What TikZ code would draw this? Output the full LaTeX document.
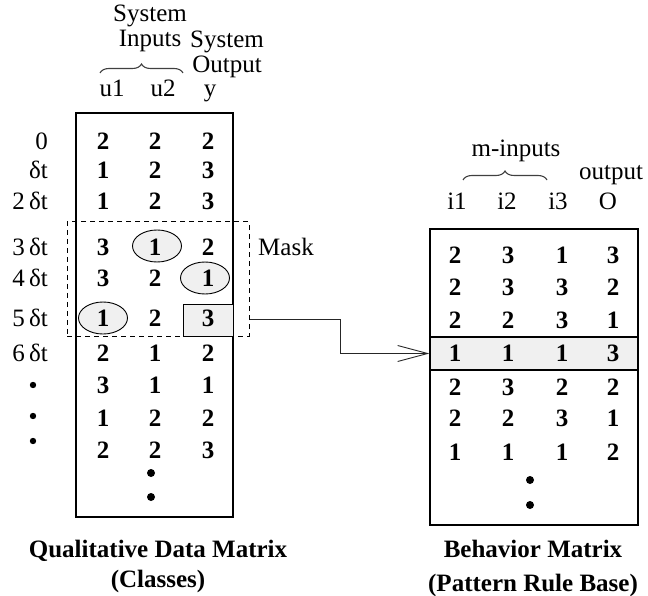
\documentclass[tikz,border=0pt]{standalone}
\usepackage{fontspec}
\setmainfont{Liberation Serif}
\usetikzlibrary{positioning, calc, decorations.pathreplacing, arrows.meta, shapes.geometric}

\tikzset{
    txt/.style={font=\fontsize{25}{27}\selectfont, inner sep=0pt},
    cell/.style={font=\fontsize{25}{27}\selectfont\bfseries, inner sep=0pt},
    ring/.style={draw, ellipse, fill=gray!12, line width=0.9pt, minimum width=49pt, minimum height=32pt},
    frame/.style={draw, line width=1.2pt, inner sep=0pt},
    bracket/.style={decorate, decoration={brace, amplitude=9pt}, line width=1.1pt, gray!50!black},
}

\begin{document}
\begin{tikzpicture}[x=1pt, y=-1pt]
    \useasboundingbox (0,0) rectangle (648,596);

    % Qualitative data matrix
    \node[frame, minimum width=157pt, minimum height=404pt] (qdm) at (154.5,315) {};
    \node[draw, dashed, dash pattern=on 5pt off 4pt, line width=1pt, minimum width=182pt, minimum height=114pt, inner sep=0pt] (mask) at (158,279) {};
    \node[draw, fill=gray!12, line width=1pt, minimum width=50pt, minimum height=32pt, inner sep=0pt] (cur) at (208,320) {};
    \node[ring] (c1) at (157,246) {};
    \node[ring] (c2) at (205,278) {};
    \node[ring] (c3) at (103,318) {};

    % Header of the left matrix
    \node[txt, align=center] (sysin) at (150,28) {System\\[-2pt]Inputs};
    \node[txt, align=center] (sysout) at (227,54) {System\\[-2pt]Output};
    \draw[bracket] (100,73) -- (183,73);
    \node[txt, anchor=base] (hu1) at (112,97) {u1};
    \node[txt, anchor=base] (hu2) at (163,97) {u2};
    \node[txt, anchor=base] (hy) at (210,97) {y};

    % Rows of the left matrix
    \foreach \n/\yy/\t/\a/\b/\c in {0/141/0/2/2/2, 1/170/δt/1/2/3, 2/201/2\,δt/1/2/3,
        3/247/3\,δt/3/1/2, 4/278/4\,δt/3/2/1, 5/318/5\,δt/1/2/3, 6/353/6\,δt/2/1/2} {
        \node[txt, anchor=east] (t\n) at (48,\yy) {\t};
        \node[cell] (q\n-1) at (103,\yy) {\a};
        \node[cell] (q\n-2) at (155,\yy) {\b};
        \node[cell] (q\n-3) at (208,\yy) {\c};
    }
    \foreach \n/\yy/\a/\b/\c in {7/385/3/1/1, 8/418/1/2/2, 9/450/2/2/3} {
        \node[cell] (q\n-1) at (103,\yy) {\a};
        \node[cell] (q\n-2) at (155,\yy) {\b};
        \node[cell] (q\n-3) at (208,\yy) {\c};
    }
    \foreach \yy in {385, 416, 441} \fill (33,\yy) circle (3.2pt);
    \foreach \yy in {473, 497} \fill (151,\yy) circle (4pt);

    \node[txt, anchor=base west] (masklbl) at (258,255) {Mask};

    % Behavior matrix
    \node[frame, minimum width=208pt, minimum height=296pt] (bm) at (534,377) {};
    \node[draw, fill=gray!12, line width=1.2pt, minimum width=208pt, minimum height=33pt, inner sep=0pt] (hl) at (534,353.5) {};

    \node[txt, anchor=base] (minp) at (516,157) {m-inputs};
    \draw[bracket] (463,180) -- (547,180);
    \node[txt, anchor=base] (outp) at (611,180) {output};
    \foreach \x/\label in {457/i1, 507/i2, 558/i3, 608/O}
        \node[txt, anchor=base] (h\label) at (\x,210) {\label};

    \foreach \n/\yy/\a/\b/\c/\d in {1/255/2/3/1/3, 2/287/2/3/3/2, 3/320/2/2/3/1, 4/353/1/1/1/3,
        5/387/2/3/2/2, 6/418/2/2/3/1, 7/452/1/1/1/2} {
        \node[cell] (b\n-1) at (455,\yy) {\a};
        \node[cell] (b\n-2) at (508,\yy) {\b};
        \node[cell] (b\n-3) at (562,\yy) {\c};
        \node[cell] (b\n-4) at (613,\yy) {\d};
    }
    \foreach \yy in {480, 505} \fill (530,\yy) circle (4pt);

    % Mask output goes to the rule base
    \coordinate (from) at (mask.east |- 0,319);
    \draw[line width=0.9pt, gray!30!black, -{Straight Barb[length=30pt, width=16pt, line width=0.9pt]}]
        (from) -- (340,319) |- (hl.west);

    % Captions
    \node[txt, font=\fontsize{25}{27}\selectfont\bfseries, anchor=base] (cap1) at (158,557) {Qualitative Data Matrix};
    \node[txt, font=\fontsize{25}{27}\selectfont\bfseries, anchor=base] (cap1b) at (158,587) {(Classes)};
    \node[txt, font=\fontsize{25}{27}\selectfont\bfseries, anchor=base] (cap2) at (533,557) {Behavior Matrix};
    \node[txt, font=\fontsize{25}{27}\selectfont\bfseries, anchor=base] (cap2b) at (533,591) {(Pattern Rule Base)};
\end{tikzpicture}
\end{document}
